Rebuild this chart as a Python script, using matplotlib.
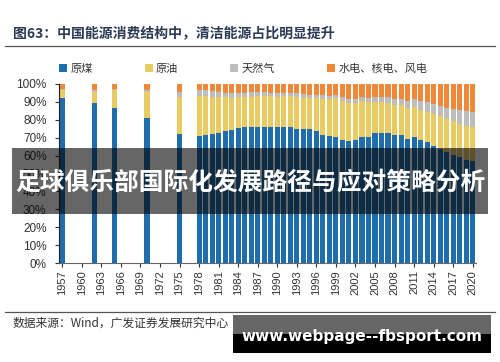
import matplotlib
matplotlib.use("Agg")
import numpy as np
import matplotlib.pyplot as plt
from matplotlib.patches import Rectangle
from matplotlib.lines import Line2D

plt.rcParams['font.family'] = ['Noto Sans CJK SC', 'DejaVu Sans']

years = [1957, 1962, 1965, 1970, 1975] + list(range(1978, 2021))
coal = [92.3, 89.2, 86.5, 80.9, 71.9,
        70.7, 71.3, 72.2, 72.7, 73.7, 74.2, 75.3, 75.8, 75.8, 76.2,
        76.2, 76.0, 76.2, 76.1, 75.7, 74.7, 75.0, 74.6, 73.5, 71.4,
        70.9, 70.6, 68.5, 68.0, 68.5, 70.2, 70.2, 72.4, 72.4, 72.5,
        71.5, 71.6, 69.2, 70.2, 68.5, 67.4, 65.6, 63.7, 62.0, 60.4,
        59.0, 57.7, 56.8]
oil = [4.6, 6.6, 10.3, 14.7, 21.1,
       22.7, 21.8, 20.7, 20.0, 18.9, 18.1, 17.4, 17.1, 17.2, 17.0,
       17.0, 17.1, 16.6, 17.1, 17.5, 18.2, 17.4, 17.5, 18.7, 20.4,
       20.8, 21.5, 22.0, 21.2, 21.0, 20.1, 19.9, 17.8, 17.5, 17.0,
       16.7, 16.4, 17.4, 16.8, 17.0, 17.1, 17.4, 18.3, 18.5, 18.8,
       18.9, 19.0, 18.9]
gas = [0.1, 0.9, 0.6, 0.9, 2.5,
       3.2, 3.3, 3.1, 2.8, 2.5, 2.4, 2.4, 2.2, 2.3, 2.1,
       2.1, 2.0, 2.1, 2.0, 1.9, 1.9, 1.9, 1.8, 1.8, 1.8,
       1.8, 2.0, 2.2, 2.4, 2.3, 2.3, 2.3, 2.4, 2.7, 3.0,
       3.4, 3.5, 4.0, 4.6, 4.8, 5.3, 5.7, 5.9, 6.2, 7.0,
       7.8, 8.0, 8.4]
primary = [3.0, 3.3, 2.6, 3.5, 4.5,
           3.4, 3.6, 4.0, 4.5, 4.9, 5.3, 4.9, 4.9, 4.7, 4.7,
           4.7, 4.9, 5.1, 4.8, 4.9, 5.2, 5.7, 6.1, 6.0, 6.4,
           6.5, 5.9, 7.3, 8.4, 8.2, 7.4, 7.6, 7.4, 7.4, 7.5,
           8.4, 8.5, 9.4, 8.4, 9.7, 10.2, 11.3, 12.1, 13.3, 13.8,
           14.3, 15.3, 15.9]
series_names = ['原煤', '原油', '天然气', '水电、核电、风电']
colors = ['#1F6DAA', '#E8CB63', '#BDBDBD', '#F0883A']
tick_years = list(range(1957, 2021, 3))

x = np.array(years)
data = np.array([coal, oil, gas, primary])
data = data / data.sum(axis=0) * 100

fig = plt.figure(figsize=(5, 3.62), dpi=100)
ax = fig.add_axes([0.118, 1 - 263 / 362, 0.834, (263 - 84) / 362])

bottom = np.zeros(len(x))
for vals, c, name in zip(data, colors, series_names):
    ax.bar(x, vals, 0.78, bottom=bottom, color=c, label=name, linewidth=0)
    bottom += vals

ax.set_xlim(1956.5, 2020.5)
ax.set_ylim(0, 100)
ax.set_yticks(range(0, 101, 10))
ax.set_yticklabels([f'{v}%' for v in range(0, 101, 10)], family='Liberation Sans',
                   fontsize=8.5, color='#333333')
ax.set_xticks(tick_years)
ax.set_xticklabels([str(y) for y in tick_years], rotation=90, family='Liberation Sans',
                   fontsize=8, color='#333333')
for s in ['top', 'right']:
    ax.spines[s].set_visible(False)
ax.spines['left'].set_color('#222222')
ax.spines['bottom'].set_color('#666666')
ax.tick_params(axis='both', length=3, width=0.8, colors='#333333', pad=2)
ax.tick_params(axis='y', pad=6)

leg = ax.legend(loc='lower left', bbox_to_anchor=(-0.01, 1.03), ncol=4, frameon=False,
                fontsize=8, handlelength=0.7, handleheight=0.7, handletextpad=0.3,
                columnspacing=4.7, borderaxespad=0)
for t in leg.get_texts():
    t.set_color('#333333')

# header / footer
fig.text(13 / 500, 1 - 33 / 362, '图63：中国能源消费结构中，清洁能源占比明显提升',
         fontsize=10, fontweight='bold', color='#2B3A55', va='center', ha='left')
fig.add_artist(Line2D([5 / 500, 495 / 500], [1 - 46 / 362] * 2, color='#555555', lw=0.9))
fig.add_artist(Line2D([5 / 500, 495 / 500], [1 - 312 / 362] * 2, color='#555555', lw=0.9))
fig.text(13 / 500, 1 - 323 / 362, '数据来源：Wind，广发证券发展研究中心',
         fontsize=8.5, color='#333333', va='center', ha='left')

# overlay banner
fig.add_artist(Rectangle((12 / 500, 1 - 214 / 362), 476 / 500, 66 / 362,
                         transform=fig.transFigure, facecolor='black', alpha=0.6,
                         edgecolor='none'))
fig.text(250 / 500, 1 - 183 / 362, '足球俱乐部国际化发展路径与应对策略分析',
         fontsize=17.8, fontweight='bold', color='white', va='center', ha='center')

# watermark
fig.add_artist(Rectangle((233 / 500, 1 - 334 / 362), 258 / 500, 19 / 362,
                         transform=fig.transFigure, facecolor='#666666', edgecolor='none'))
fig.add_artist(Rectangle((233 / 500, 1 - 353 / 362), 258 / 500, 19 / 362,
                         transform=fig.transFigure, facecolor='black', edgecolor='none'))
fig.text(362 / 500, 1 - 336 / 362, 'www.webpage--fbsport.com', family='DejaVu Sans',
         fontsize=11, fontweight='bold', color='white', va='center', ha='center')

fig.savefig('out.png', dpi=100)
